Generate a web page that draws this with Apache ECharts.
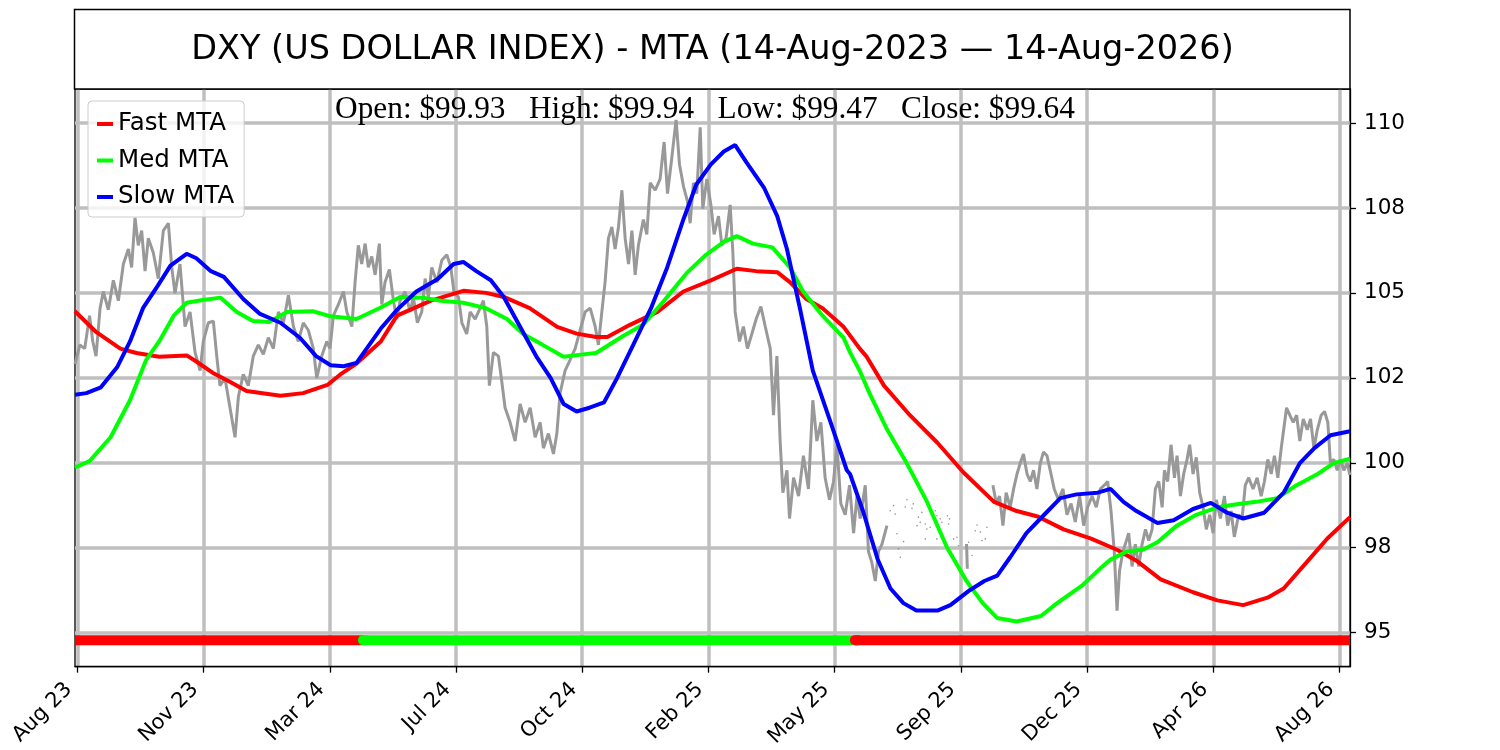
<!DOCTYPE html>
<html>
<head>
<meta charset="utf-8">
<script src="https://cdn.jsdelivr.net/npm/echarts@6/dist/echarts.min.js"></script>
<style>
  html, body { margin: 0; padding: 0; background: #fff; }
  #chart { width: 1500px; height: 750px; }
</style>
</head>
<body>
<div id="chart"></div>
<script>
// x is a trading-day index (0 .. 788), ticks every 78 days
const xTickPos = [1.5, 79.5, 157.5, 235.5, 313.5, 391.5, 469.5, 547.5, 625.5, 703.5, 781.5];
const xTickLabels = ['Aug 23', 'Nov 23', 'Mar 24', 'Jul 24', 'Oct 24', 'Feb 25', 'May 25', 'Sep 25', 'Dec 25', 'Apr 26', 'Aug 26'];
const yTickPos = [95, 97.5, 100, 102.5, 105, 107.5, 110];
const yTickLabels = ['95', '98', '100', '102', '105', '108', '110'];

const titleText = 'DXY (US DOLLAR INDEX) - MTA (14-Aug-2023 \u2014 14-Aug-2026)';
const ohlcNames = ['Open', 'High', 'Low', 'Close'];
const ohlcValues = [99.93, 99.94, 99.47, 99.64];

// price; the line has a gap in Jul-Sep 25
const priceA = [
  [0,102.9],[3,103.47],[6,103.36],[9,104.33],[11,103.57],[13,103.14],[15.5,104.55],[17.5,105.04],[20.6,104.5],[23.7,105.37],
  [26.8,104.77],[29.9,105.85],[33,106.29],[35,105.75],[37.1,107.21],[39.1,106.4],[41.2,106.83],[43.3,105.64],[45.3,106.61],[48.4,106.18],
  [51.5,105.42],[54.6,106.83],[57.7,107.05],[59.8,105.75],[61.8,104.99],[64.9,105.85],[68,104.01],[71.1,104.44],[74.2,103.25],[77.3,102.71],
  [79.3,103.57],[82.4,104.12],[85.5,104.17],[87.6,103.14],[89.6,102.27],[92.7,102.49],[95.8,101.62],[98.9,100.75],[101,101.95],[104,102.6],
  [107.1,102.27],[110.2,103.14],[113.3,103.47],[116.4,103.19],[119.5,103.68],[122.6,103.36],[125.7,104.44],[128.8,104.12],[131.9,104.93],[135,104.01],
  [138,103.57],[141.1,104.12],[144.2,103.9],[147.3,103.36],[149.4,102.49],[152.5,103.14],[155.6,103.57],[157.6,103.36],[159.7,104.33],[162.8,104.66],
  [165.9,105.04],[168,104.44],[171.1,104.01],[173.1,105.31],[175.1,106.4],[177.2,105.85],[179.3,106.45],[181.3,105.75],[183.4,106.07],[185.5,105.53],
  [188.1,106.45],[189.6,104.66],[191.6,105.31],[194.3,105.69],[196.8,104.77],[198.9,104.23],[200.9,104.77],[204,105.04],[207.1,104.44],[209.1,104.88],
  [211.6,104.12],[214.3,104.44],[216.4,105.42],[218.4,104.88],[220.5,105.75],[223.6,105.31],[226.7,105.96],[229.8,106.12],[232.3,105.75],[234.3,104.99],
  [237,104.88],[239.1,104.12],[242.1,103.79],[244.2,104.44],[247.3,104.23],[250.4,104.55],[252.4,104.77],[254.5,104.01],[256.1,102.27],[258.6,103.25],
  [261.7,103.14],[263.8,102.38],[265.8,101.62],[268.9,101.19],[272,100.64],[275.1,101.73],[278.2,101.19],[281.3,101.62],[284.4,100.75],[287.5,101.19],
  [289.5,100.43],[292.6,100.86],[295.7,100.26],[297.8,100.86],[299.8,102.05],[302.9,102.71],[306,103.03],[309.1,103.36],[312.2,103.9],[315.3,104.44],
  [318.4,104.55],[321.5,104.01],[323.5,103.47],[325.6,104.44],[327.6,105.31],[329.7,106.61],[331.8,106.94],[333.8,106.29],[335.9,106.94],[338,108.02],
  [340,106.61],[342.1,105.85],[344.2,106.83],[346.2,105.53],[348.2,106.4],[351.3,107.16],[353.4,106.72],[355.5,108.24],[358.6,108.02],[361.6,108.35],
  [364.1,109.44],[366.2,107.92],[368.9,109.0],[371.5,110.09],[373.6,108.78],[376.1,108.13],[378.5,107.7],[380.2,107.05],[382.2,108.24],[384.3,107.92],
  [386.4,109.87],[388,107.48],[390.5,108.35],[393,107.59],[395,106.72],[397.7,107.26],[399.8,106.4],[402.4,106.61],[404.9,107.59],[406.6,106.18],
  [408,104.44],[410.7,103.57],[413.1,104.01],[415.6,103.36],[418.3,103.79],[421,104.23],[423.9,104.6],[426.6,104.01],[429.7,103.36],[431.7,101.4],
  [433.8,103.14],[435.8,100.64],[437.5,99.12],[440,99.78],[441.6,98.36],[444.1,99.56],[447.2,99.02],[450.2,100.21],[453.3,99.23],[456,101.84],
  [458.5,100.64],[461,101.19],[463.6,99.56],[466.3,98.91],[468.8,99.45],[470.9,100.53],[473.3,98.8],[476,98.47],[478.7,99.34],[481.2,97.93],
  [483.3,99.02],[485.3,98.36],[488.4,99.34],[490.4,97.39],[492.5,97.06],[494.6,96.52],[496.6,97.39],[498.7,97.6],[501.8,98.15]
];
const priceB = [[551,97.61],[551.5,96.88]];
const priceC = [
  [567.3,99.34],[569.4,98.8],[571.4,99.02],[573.5,98.15],[575.5,99.12],[578,98.69],[580.1,99.23],[582.2,99.67],[584.2,99.99],[586.2,100.26],
  [588.4,99.67],[590.4,99.45],[592.4,99.78],[594.5,99.23],[596.6,99.99],[598.6,100.32],[600.7,100.21],[602.7,99.78],[605.2,99.23],[607.8,98.91],
  [610.6,99.23],[613.1,98.47],[615.6,98.8],[618.2,98.26],[620.9,99.02],[623.4,98.15],[625.8,98.69],[628.6,99.02],[631.2,98.69],[633.7,99.23],
  [636.2,99.34],[638.2,99.45],[640.3,98.58],[642.3,97.39],[644,95.65],[645.6,96.84],[647.7,97.39],[649.1,97.6],[651.2,97.93],[653.3,96.95],
  [655.3,97.6],[657.4,96.95],[659.5,97.6],[661.6,98.04],[663.6,97.71],[665.7,98.04],[667.7,99.23],[669.8,99.45],[671.9,98.69],[673.3,99.78],
  [675.3,99.45],[677.4,100.53],[679.5,99.56],[681.1,100.21],[683.2,99.02],[685.2,99.67],[687.3,100.1],[688.9,100.53],[691,99.67],[693,100.16],
  [695.1,99.12],[697.2,98.69],[699.2,98.04],[701.3,98.47],[703.4,97.93],[705.4,98.91],[707.9,98.36],[710.4,99.02],[712.4,98.15],[714.5,98.58],
  [716.5,97.82],[719.2,98.47],[721.3,98.36],[723.3,99.34],[725.4,99.56],[728.1,99.23],[730.6,99.56],[733.1,99.02],[735.1,99.45],[737.2,100.1],
  [739.3,99.67],[741.3,100.21],[743.4,99.56],[745.5,100.43],[746.7,100.86],[748.8,101.62],[750.8,101.4],[752.9,101.19],[755,101.4],[757,100.64],
  [759.1,101.29],[761.6,100.97],[763.6,101.29],[765.7,100.43],[767.8,100.97],[770.2,101.4],[772.3,101.51],[774.3,101.19],[775.9,99.99],[778,100.1],
  [780.1,99.78],[782.2,100.1],[784.2,99.78],[786.3,99.99],[787.9,99.64]
];
// isolated price points inside the gap
const priceDots = [
  [503.8,98.59],[505.9,98.74],[506.9,98.49],[508,97.91],[509,97.47],[510.1,97.22],[512.1,97.68],[513.1,98.7],[514.2,98.91],[517.3,98.66],
  [518.1,98.79],[520.4,98.15],[521.3,98.4],[522.4,98.25],[523.4,98.54],[525.5,98.2],[525.5,97.76],[526.5,98.05],[528.6,98.1],[531.7,98.59],
  [532.7,98.44],[532.7,97.76],[534.7,98.35],[535.8,98.25],[539.2,98.44],[540.5,98.35],[539.9,98.2],[543,97.76],[545.1,97.81],[546.1,97.56],
  [552.3,97.66],[554.4,97.27],[556.4,98.0],[557.5,98.17],[559.5,97.96],[560.6,97.71],[562.6,97.76],[563.6,98.1]
];

const fastMta = [
  [0,104.46],[13,103.85],[28,103.36],[38,103.23],[52,103.12],[69,103.16],[75,102.98],[85,102.65],[96,102.38],[106,102.11],
  [127,101.97],[141,102.05],[156,102.29],[164,102.6],[174,102.92],[189,103.57],[199,104.33],[220,104.77],[240,105.06],[254,105.0],
  [265,104.88],[281,104.55],[298,104.0],[310,103.8],[322,103.7],[329,103.7],[343,104.06],[360,104.44],[376,105.04],[393,105.37],
  [409,105.71],[421,105.64],[434,105.61],[442,105.31],[452,104.82],[462,104.55],[475,104.0],[485,103.36],[489,103.14],[500,102.27],
  [516,101.4],[533,100.59],[549,99.72],[568,98.85],[582,98.58],[595,98.42],[611,98.04],[628,97.77],[644,97.44],[656,97.12],
  [671,96.57],[691,96.19],[706,95.95],[722,95.81],[737,96.03],[747,96.3],[761,97.06],[774,97.77],[788,98.4]
];
const medMta = [
  [0,99.86],[9,100.05],[22,100.75],[34,101.84],[44,103.03],[52,103.57],[61,104.33],[69,104.71],[79,104.79],[90,104.86],
  [100,104.44],[110,104.17],[120,104.14],[131,104.44],[147,104.46],[158,104.31],[174,104.23],[189,104.57],[201,104.88],[215,104.86],
  [226,104.77],[240,104.71],[254,104.55],[267,104.23],[277,103.79],[289,103.47],[302,103.12],[314,103.19],[322,103.23],[339,103.74],
  [351,104.06],[363,104.71],[378,105.58],[390,106.12],[401,106.5],[409,106.67],[419,106.45],[431,106.34],[442,105.74],[450,105.04],
  [462,104.33],[475,103.68],[479,103.25],[485,102.71],[491,102.05],[502,100.97],[514,99.99],[526,98.91],[539,97.5],[551,96.52],
  [561,95.87],[570,95.43],[582,95.33],[597,95.49],[607,95.87],[623,96.41],[635,96.95],[640,97.15],[650,97.39],[660,97.44],
  [669,97.66],[681,98.15],[693,98.47],[706,98.69],[718,98.78],[730,98.85],[743,98.96],[755,99.34],[768,99.67],[778,99.99],[788,100.12]
];
const slowMta = [
  [0,102.0],[7,102.05],[16,102.22],[26,102.81],[34,103.57],[42,104.55],[51,105.2],[59,105.8],[69,106.15],[75,106.02],
  [84,105.64],[92,105.47],[104,104.82],[114,104.39],[127,104.12],[139,103.68],[149,103.14],[158,102.87],[166,102.84],[174,102.94],
  [189,103.95],[199,104.5],[211,105.04],[224,105.4],[234,105.85],[240,105.91],[248,105.64],[257,105.37],[265,104.88],[275,104.01],
  [285,103.14],[294,102.49],[302,101.73],[310,101.51],[318,101.62],[327,101.78],[335,102.49],[345,103.47],[356,104.55],[366,105.75],
  [376,107.16],[384,108.19],[393,108.78],[401,109.16],[408,109.35],[415,108.84],[426,108.08],[434,107.26],[440,106.29],[448,104.55],
  [456,102.71],[467,101.19],[477,99.78],[479,99.67],[487,98.58],[496,97.17],[504,96.3],[512,95.87],[520,95.65],[533,95.65],
  [541,95.81],[553,96.25],[562,96.52],[570,96.68],[578,97.22],[588,97.93],[599,98.47],[609,98.96],[619,99.07],[632,99.12],
  [640,99.23],[648,98.85],[656,98.58],[669,98.23],[679,98.31],[691,98.64],[702,98.82],[712,98.53],[722,98.36],[735,98.53],
  [747,99.12],[757,99.99],[766,100.43],[776,100.81],[788,100.93]
];

// trend state strip along the bottom
const regimeEdges = [0, 178, 482, 788];
const regimeColors = ['#ff0000', '#00ff00', '#ff0000'];
const regimeLevel = 94.78;

const FONT = 'DejaVu Sans';
const GRID_COLOR = '#bfbfbf';

const chart = echarts.init(document.getElementById('chart'), null, { renderer: 'canvas' });

function priceSeries(data) {
  return {
    type: 'line', data: data, showSymbol: false, silent: true,
    lineStyle: { color: '#999999', width: 3 }, z: 2
  };
}

function mtaSeries(name, color, data) {
  return {
    name: name, type: 'line', data: data, showSymbol: false, silent: true,
    itemStyle: { color: color },
    lineStyle: { color: color, width: 4 }, z: 3
  };
}

// flat ends at the plot edges, rounded start where a new state begins
const regimeSeries = [];
regimeColors.forEach((c, i) => {
  const a = regimeEdges[i], b = regimeEdges[i + 1];
  regimeSeries.push({
    type: 'line', silent: true, showSymbol: false, z: 4,
    data: [[a, regimeLevel], [b, regimeLevel]],
    lineStyle: { color: c, width: 10, cap: 'butt' }
  });
  if (i > 0) {
    regimeSeries.push({
      type: 'line', silent: true, showSymbol: false, z: 4,
      data: [[a, regimeLevel], [a + 2, regimeLevel]],
      lineStyle: { color: c, width: 10, cap: 'round' }
    });
  }
});

const ohlcText = ohlcNames.map((n, i) => n + ': $' + ohlcValues[i].toFixed(2)).join('   ');

chart.setOption({
  animation: false,
  backgroundColor: '#ffffff',
  grid: {
    left: 75, right: 150, top: 89, bottom: 82,
    show: true, borderColor: '#000', borderWidth: 1.3, backgroundColor: 'transparent'
  },
  legend: {
    data: ['Fast MTA', 'Med MTA', 'Slow MTA'],
    left: 88, top: 101, orient: 'vertical',
    icon: 'rect', itemWidth: 16, itemHeight: 4, itemGap: 10.5,
    padding: [10, 10, 7, 9],
    backgroundColor: 'rgba(255,255,255,0.8)',
    borderColor: '#cccccc', borderWidth: 1, borderRadius: 4,
    textStyle: { fontFamily: FONT, fontSize: 24.5, color: '#000', lineHeight: 26 },
    selectedMode: false
  },
  xAxis: {
    type: 'value', min: 0, max: 788,
    axisLine: { show: true, onZero: false, lineStyle: { color: '#000', width: 1.3 } },
    axisTick: { show: true, customValues: xTickPos, length: 6, lineStyle: { color: '#000', width: 1.3 } },
    axisLabel: {
      customValues: xTickPos, rotate: 45, margin: 11, padding: [0, 12, 0, 0],
      fontFamily: FONT, fontSize: 21, color: '#000',
      formatter: v => xTickLabels[xTickPos.indexOf(v)]
    },
    splitLine: { show: true, lineStyle: { color: GRID_COLOR, width: 3.5 } }
  },
  yAxis: {
    type: 'value', position: 'right', min: 94, max: 111,
    axisLine: { show: true, onZero: false, lineStyle: { color: '#000', width: 1.3 } },
    axisTick: { show: true, customValues: yTickPos, length: 6, lineStyle: { color: '#000', width: 1.3 } },
    axisLabel: {
      customValues: yTickPos, margin: 14,
      fontFamily: FONT, fontSize: 21.5, color: '#000',
      formatter: v => yTickLabels[yTickPos.indexOf(v)]
    },
    splitLine: { show: true, lineStyle: { color: GRID_COLOR, width: 3.5 } }
  },
  graphic: [
    {
      type: 'rect', z: 10,
      shape: { x: 74.5, y: 9.5, width: 1275.5, height: 79.5 },
      style: { fill: '#fff', stroke: '#000', lineWidth: 1.5 }
    },
    {
      type: 'text', z: 11, x: 712.5, y: 50,
      style: {
        text: titleText, font: '33.5px "DejaVu Sans"', fill: '#000',
        textAlign: 'center', textVerticalAlign: 'middle', align: 'center', verticalAlign: 'middle'
      }
    },
    {
      type: 'text', z: 11, x: 705, y: 110,
      style: {
        text: ohlcText, font: '31.3px "Liberation Serif"', fill: '#000',
        textAlign: 'center', textVerticalAlign: 'middle', align: 'center', verticalAlign: 'middle'
      }
    }
  ],
  series: [
    priceSeries(priceA),
    priceSeries(priceB),
    priceSeries(priceC),
    {
      type: 'scatter', data: priceDots, symbolSize: 1.6, silent: true, z: 2,
      itemStyle: { color: '#777777' }
    },
    mtaSeries('Fast MTA', '#ff0000', fastMta),
    mtaSeries('Med MTA', '#00ff00', medMta),
    mtaSeries('Slow MTA', '#0000ff', slowMta)
  ].concat(regimeSeries)
});
</script>
</body>
</html>
